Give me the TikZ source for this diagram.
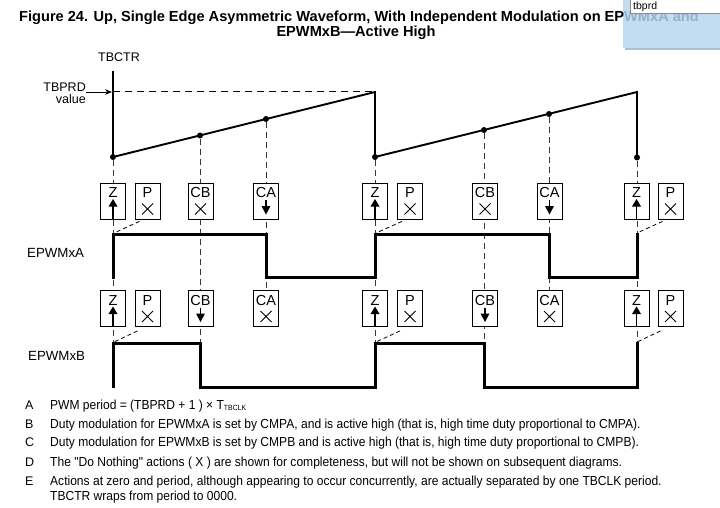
\documentclass[tikz,border=0pt]{standalone}
\usepackage{fontspec}
\setmainfont{Liberation Sans}
\newfontfamily\notefont[FakeStretch=0.92]{Liberation Sans}
\usetikzlibrary{arrows.meta}
\definecolor{popblue}{RGB}{196,220,240}
\definecolor{popshadow}{RGB}{175,190,205}
\definecolor{hiddentext}{RGB}{150,175,202}
\definecolor{dashgray}{RGB}{55,55,55}
\tikzset{
  abox/.style={draw, line width=0.8pt, fill=white, minimum width=25pt, minimum height=36pt, inner sep=0pt},
  aletter/.style={inner sep=0pt, font=\fontsize{14.5}{14.5}\selectfont},
  lab/.style={inner sep=0pt, font=\fontsize{12.5}{13}\selectfont},
  dot/.style={circle, fill=black, inner sep=0pt, minimum size=6pt},
  ramp/.style={line width=1.9pt},
  wave/.style={line width=3pt, line join=miter},
  vdash/.style={line width=1pt, dashgray, dash pattern=on 6pt off 4pt},
  pdash/.style={line width=0.8pt, dash pattern=on 4pt off 3pt},
  note/.style={inner sep=0pt, anchor=base west, font=\notefont\fontsize{13.1}{14}\selectfont},
  noteletter/.style={inner sep=0pt, anchor=base west, font=\fontsize{12.5}{14}\selectfont},
}
% box with letter: name, x, y-centre, letter
\newcommand\ActBox[4]{%
  \node[abox] (#1) at (#2,#3) {};
  \node[aletter] (#1l) at (#2,#3-8) {#4};
}
\newcommand\SymUp[2]{%
  \draw[line width=1.4pt] (#1,#2+18) -- (#1,#2+3);
  \fill (#1-4.5,#2+5.5) -- (#1+4.5,#2+5.5) -- (#1,#2-2) -- cycle;
}
\newcommand\SymDown[2]{%
  \draw[line width=1.4pt] (#1,#2-1) -- (#1,#2+7);
  \fill (#1-4.5,#2+5) -- (#1+4.5,#2+5) -- (#1,#2+13.5) -- cycle;
}
\newcommand\SymX[2]{%
  \draw[line width=0.8pt] (#1-5.5,#2+2.5) -- (#1+5.5,#2+13.5) (#1-5.5,#2+13.5) -- (#1+5.5,#2+2.5);
}
\begin{document}
\begin{tikzpicture}[x=1pt,y=-1pt]
\useasboundingbox[fill=white] (0,0) rectangle (720,508);

% popup overlay (background part)
\fill[popshadow] (625,2) rectangle (720,50);
\fill[popblue] (623,0) rectangle (720,48);

% title
\node[inner sep=0pt, font=\bfseries\fontsize{14.6}{16}\selectfont] (title1) at (359,18) {Figure 24. Up, Single Edge Asymmetric Waveform, With Independent Modulation on EP\textcolor{hiddentext}{WMxA and}};
\node[inner sep=0pt, font=\bfseries\fontsize{14.6}{16}\selectfont] (title2) at (356,32.5) {EPWMxB\textemdash Active High};

% popup input field
\draw[fill=white, draw=black!45, line width=0.6pt] (630,-1) rectangle (721,13);
\node[inner sep=0pt, anchor=base west, font=\fontsize{10.5}{10}\selectfont] (pop) at (633,9.5) {tbprd};

% labels
\node[lab] (tbctr) at (119,57) {TBCTR};
\node[lab, align=right, anchor=east] (tbprd) at (86,93.5) {TBPRD\\[-0.5pt]value};
\node[lab, anchor=west, font=\fontsize{13.3}{13}\selectfont] (epa) at (27,253) {EPWMxA};
\node[lab, anchor=west, font=\fontsize{13.3}{13}\selectfont] (epb) at (28,356) {EPWMxB};

% counter
\coordinate (top1) at (375,92);
\coordinate (top2) at (637,92);
\node[dot] (z1) at (113,157) {};
\node[dot] (cb1) at (200,135.5) {};
\node[dot] (ca1) at (266,119) {};
\node[dot] (z2) at (375,157) {};
\node[dot] (cb2) at (484,130) {};
\node[dot] (ca2) at (549,114) {};
\node[dot] (z3) at (637,157.5) {};

% vertical dashed event lines
\draw[vdash] (z1) -- (113,342);
\draw[vdash] (cb1) -- (200,343);
\draw[vdash] (ca1) -- (266,327);
\draw[vdash] (z2) -- (375,343);
\draw[vdash] (cb2) -- (484,343);
\draw[vdash] (ca2) -- (549,327);
\draw[vdash] (z3) -- (637,342);

\draw[line width=1pt, dash pattern=on 7pt off 5pt] (113,92) -- (top1);
\draw[line width=2.6pt] (113,71) -- (z1.center);
\draw[-{Stealth[length=7pt,width=5.5pt]}, line width=0.8pt] (tbprd.east |- 0,92) -- (112,92);
\draw[ramp, line join=miter] (z1.center) -- (top1) -- (z2.center) -- (top2) -- (z3.center);

% action boxes row 1 (EPWMxA)
\ActBox{a1z}{113}{201}{Z} \SymUp{113}{201}
\ActBox{a1p}{147.5}{201}{P} \SymX{147.5}{201}
\ActBox{a1cb}{200.5}{201}{CB} \SymX{200.5}{201}
\ActBox{a1ca}{266}{201}{CA} \SymDown{266}{201}
\ActBox{a2z}{375}{201}{Z} \SymUp{375}{201}
\ActBox{a2p}{410}{201}{P} \SymX{410}{201}
\ActBox{a2cb}{485}{201}{CB} \SymX{485}{201}
\ActBox{a2ca}{549.5}{201}{CA} \SymDown{549.5}{201}
\ActBox{a3z}{636.5}{201}{Z} \SymUp{636.5}{201}
\ActBox{a3p}{670.5}{201}{P} \SymX{670.5}{201}

% action boxes row 2 (EPWMxB)
\ActBox{b1z}{113}{308.5}{Z} \SymUp{113}{308.5}
\ActBox{b1p}{147.5}{308.5}{P} \SymX{147.5}{308.5}
\ActBox{b1cb}{200.5}{308.5}{CB} \SymDown{200.5}{308.5}
\ActBox{b1ca}{266}{308.5}{CA} \SymX{266}{308.5}
\ActBox{b2z}{375}{308.5}{Z} \SymUp{375}{308.5}
\ActBox{b2p}{410}{308.5}{P} \SymX{410}{308.5}
\ActBox{b2cb}{485}{308.5}{CB} \SymDown{485}{308.5}
\ActBox{b2ca}{549.5}{308.5}{CA} \SymX{549.5}{308.5}
\ActBox{b3z}{636.5}{308.5}{Z} \SymUp{636.5}{308.5}
\ActBox{b3p}{670.5}{308.5}{P} \SymX{670.5}{308.5}

% P dashed leaders
\draw[pdash] ([xshift=-8pt,yshift=-2pt]a1p.south) -- (114,233);
\draw[pdash] ([xshift=-8pt,yshift=-2pt]a2p.south) -- (376,233);
\draw[pdash] ([xshift=-8pt,yshift=-2pt]a3p.south) -- (637,233);
\draw[pdash] ([xshift=-10pt,yshift=-4pt]b1p.south) -- (114,342);
\draw[pdash] ([xshift=-10pt,yshift=-4pt]b2p.south) -- (376,342);
\draw[pdash] ([xshift=-10pt,yshift=-4pt]b3p.south) -- (637,342);

% waveforms
\draw[wave] (113,279) -- (113,234) -- (266,234) -- (266,277) -- (375,277) -- (375,234) -- (549,234) -- (549,277) -- (637,277) -- (637,233);
\draw[wave] (113,388) -- (113,343) -- (200,343) -- (200,387) -- (375,387) -- (375,343) -- (484,343) -- (484,387) -- (637,387) -- (637,342);

% notes
\node[noteletter] (nA) at (25,409) {A};
\node[note] (tA) at (50,409) {PWM period = (TBPRD + 1 ) \texttimes{} T\raisebox{-1.5pt}{\fontsize{7.5}{7}\selectfont TBCLK}};
\node[noteletter] (nB) at (25,428) {B};
\node[note] (tB) at (50,428) {Duty modulation for EPWMxA is set by CMPA, and is active high (that is, high time duty proportional to CMPA).};
\node[noteletter] (nC) at (25,446.5) {C};
\node[note] (tC) at (50,446.5) {Duty modulation for EPWMxB is set by CMPB and is active high (that is, high time duty proportional to CMPB).};
\node[noteletter] (nD) at (25,466.5) {D};
\node[note] (tD) at (50,466.5) {The "Do Nothing" actions ( X ) are shown for completeness, but will not be shown on subsequent diagrams.};
\node[noteletter] (nE) at (25,485) {E};
\node[note] (tE) at (50,485) {Actions at zero and period, although appearing to occur concurrently, are actually separated by one TBCLK period.};
\node[note] (tE2) at (50,500.5) {TBCTR wraps from period to 0000.};
\end{tikzpicture}
\end{document}
